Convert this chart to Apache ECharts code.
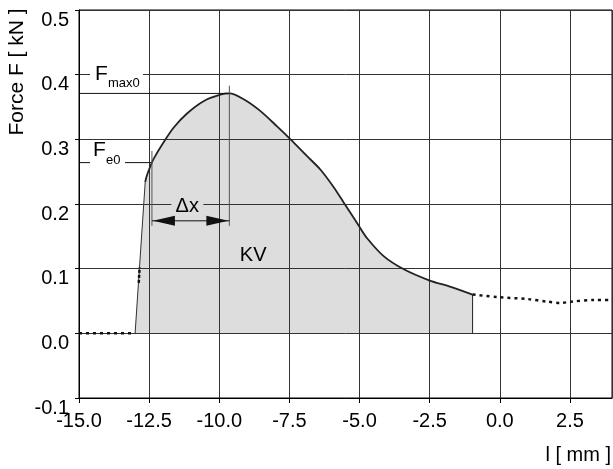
<!DOCTYPE html>
<html><head><meta charset="utf-8">
<script src="https://cdn.jsdelivr.net/npm/echarts@6/dist/echarts.min.js"></script>
<style>html,body{margin:0;padding:0;background:#fff}#c{width:613px;height:469px}</style>
</head><body><div id="c"></div>
<script>
// ---- data ----
const baselineX = [-15.0, -13.0];
const baselineF = [0, 0];
const riseX = [-13.0, -12.64];
const riseF = [0, 0.234];
const probeX = [-12.87, -12.84];
const probeF = [0.078, 0.102];
const curveX = [-12.64,-12.58,-12.46,-12.35,-11.99,-11.63,-11.15,-10.56,-9.96,-9.64,-9.13,-8.54,-7.94,-7.46,-6.87,-6.39,-5.92,-5.56,-5.02,-4.73,-4.13,-3.42,-2.52,-1.75,-0.97];
const curveF = [0.234,0.244,0.258,0.269,0.295,0.318,0.340,0.359,0.369,0.371,0.362,0.344,0.320,0.300,0.274,0.253,0.226,0.202,0.166,0.147,0.119,0.099,0.082,0.072,0.060];
const tailX = [-0.97,-0.08,0.99,1.70,2.18,2.54,3.37,4.0];
const tailF = [0.060,0.056,0.053,0.049,0.047,0.049,0.0515,0.0515];
const fe0 = [-12.40, 0.264];
const fmax0 = [-9.64, 0.371];
const fe0Top = 0.282, fmax0Top = 0.383, dxArrowF = 0.174;
const fmaxLabelAt = [-14.43, 0.3895];
const fe0LabelAt = [-14.50, 0.272];
const dxLabelAt = [-11.14, 0.196];
const kvLabelAt = [-8.79, 0.1206];
const xTickLabels = ['-15.0','-12.5','-10.0','-7.5','-5.0','-2.5','0.0','2.5'];
const yTickLabels = ['-0.1','0.0','0.1','0.2','0.3','0.4','0.5'];
const xName = 'l [ mm ]';
const yName = 'Force F [ kN ]';

const FONT = '"Liberation Sans", Arial, sans-serif';
const zip = (a, b) => a.map((v, i) => [v, b[i]]);
const areaData = zip(riseX.slice(0,1), riseF.slice(0,1)).concat(zip(curveX, curveF));

const chart = echarts.init(document.getElementById('c'), null, {renderer: 'canvas'});

function renderAnno(params, api) {
  const p = (x, y) => api.coord([x, y]);
  const left = p(-15, 0)[0];
  const fe = p(fe0[0], fe0[1]);
  const fm = p(fmax0[0], fmax0[1]);
  const feTopY = p(fe0[0], fe0Top)[1];
  const fmTopY = p(fmax0[0], fmax0Top)[1];
  const ay = p(0, dxArrowF)[1];
  const vBot = ay + 5;
  const ls = {stroke: '#111', lineWidth: 1};
  const c = [];
  c.push({type: 'line', shape: {x1: left, y1: fm[1], x2: fm[0], y2: fm[1]}, style: ls});
  c.push({type: 'line', shape: {x1: left, y1: fe[1], x2: fe[0], y2: fe[1]}, style: ls});
  c.push({type: 'line', shape: {x1: fe[0], y1: feTopY, x2: fe[0], y2: vBot}, style: {stroke: '#555', lineWidth: 1}});
  c.push({type: 'line', shape: {x1: fm[0], y1: fmTopY, x2: fm[0], y2: vBot}, style: {stroke: '#555', lineWidth: 1}});
  c.push({type: 'line', shape: {x1: fe[0], y1: ay, x2: fm[0], y2: ay}, style: ls});
  c.push({type: 'polygon', shape: {points: [[fe[0] + 1, ay], [fe[0] + 23, ay - 5], [fe[0] + 23, ay + 5]]}, style: {fill: '#111'}});
  c.push({type: 'polygon', shape: {points: [[fm[0] - 1, ay], [fm[0] - 23, ay - 5], [fm[0] - 23, ay + 5]]}, style: {fill: '#111'}});
  // Fmax0 label
  const a1 = p(fmaxLabelAt[0], fmaxLabelAt[1]);
  c.push({type: 'rect', shape: {x: a1[0] - 5, y: a1[1] - 16, width: 53, height: 21}, style: {fill: '#fff'}});
  c.push({type: 'text', style: {text: 'F', x: a1[0], y: a1[1] - 7.5, fontSize: 21, fontFamily: FONT, fill: '#000', align: 'left', verticalAlign: 'middle'}});
  c.push({type: 'text', style: {text: 'max0', x: a1[0] + 13, y: a1[1] + 2, fontSize: 13, fontFamily: FONT, fill: '#000', align: 'left', verticalAlign: 'middle'}});
  // Fe0 label
  const a2 = p(fe0LabelAt[0], fe0LabelAt[1]);
  c.push({type: 'rect', shape: {x: a2[0] - 3, y: a2[1] - 13, width: 35, height: 23}, style: {fill: '#fff'}});
  c.push({type: 'text', style: {text: 'F', x: a2[0], y: a2[1] - 7.5, fontSize: 21, fontFamily: FONT, fill: '#000', align: 'left', verticalAlign: 'middle'}});
  c.push({type: 'text', style: {text: 'e0', x: a2[0] + 13, y: a2[1] + 3, fontSize: 13, fontFamily: FONT, fill: '#000', align: 'left', verticalAlign: 'middle'}});
  // Δx label
  const a3 = p(dxLabelAt[0], dxLabelAt[1]);
  c.push({type: 'rect', shape: {x: a3[0] - 16, y: a3[1] - 7, width: 32, height: 13}, style: {fill: '#dddddd'}});
  c.push({type: 'text', style: {text: 'Δx', x: a3[0], y: a3[1], fontSize: 20, fontFamily: FONT, fill: '#000', align: 'center', verticalAlign: 'middle'}});
  // KV label
  const a4 = p(kvLabelAt[0], kvLabelAt[1]);
  c.push({type: 'text', style: {text: 'KV', x: a4[0], y: a4[1], fontSize: 20, fontFamily: FONT, fill: '#000', align: 'center', verticalAlign: 'middle'}});
  return {type: 'group', children: c};
}

const option = {
  animation: false,
  backgroundColor: '#fff',
  grid: {left: 79, top: 10, right: 1, bottom: 71, show: true, borderColor: '#000', borderWidth: 1, backgroundColor: 'transparent'},
  xAxis: {
    type: 'value', min: -15, max: 4, interval: 2.5, z: 3,
    axisLine: {onZero: false, lineStyle: {color: '#000', width: 1}},
    axisTick: {show: true, inside: false, length: 5, lineStyle: {color: '#000'}},
    axisLabel: {color: '#000', fontSize: 20, fontFamily: FONT, margin: 13, showMaxLabel: false,
      formatter: v => { const i = Math.round((v + 15) / 2.5); return xTickLabels[i] !== undefined ? xTickLabels[i] : ''; }},
    splitLine: {show: true, lineStyle: {color: '#333', width: 1}}
  },
  yAxis: {
    type: 'value', min: -0.1, max: 0.5, interval: 0.1, z: 3,
    axisLine: {onZero: false, lineStyle: {color: '#000', width: 1}},
    axisTick: {show: true, inside: false, length: 4, lineStyle: {color: '#000'}},
    axisLabel: {color: '#000', fontSize: 20, fontFamily: FONT, margin: 10, verticalAlign: 'top', lineHeight: 20,
      formatter: v => { const i = Math.round((v + 0.1) / 0.1); return yTickLabels[i] !== undefined ? yTickLabels[i] : ''; }},
    splitLine: {show: true, lineStyle: {color: '#333', width: 1}}
  },
  graphic: [
    {type: 'text', rotation: Math.PI / 2, x: 17, y: 72, z: 10,
      style: {text: yName, fontSize: 21, fontFamily: FONT, fill: '#000', align: 'center', verticalAlign: 'middle'}},
    {type: 'text', x: 611, y: 455, z: 10,
      style: {text: xName, fontSize: 20, fontFamily: FONT, fill: '#000', align: 'right', verticalAlign: 'middle'}}
  ],
  series: [
    {type: 'line', z: 1, data: areaData, symbol: 'none', smooth: 0.3,
      lineStyle: {width: 0, opacity: 0}, areaStyle: {color: '#dddddd', opacity: 1}},
    {type: 'line', z: 4, data: [[curveX[curveX.length - 1], 0], [curveX[curveX.length - 1], curveF[curveF.length - 1]]], symbol: 'none',
      lineStyle: {color: '#222', width: 1}},
    {type: 'line', z: 4, data: zip(baselineX, baselineF), symbol: 'none', lineStyle: {color: '#111', width: 2.5, type: [3, 4]}},
    {type: 'line', z: 4, data: zip(riseX, riseF), symbol: 'none', lineStyle: {color: '#333', width: 1}},
    {type: 'line', z: 4, data: zip(probeX, probeF), symbol: 'none', lineStyle: {color: '#111', width: 2.5, type: [3, 2]}},
    {type: 'line', z: 4, data: zip(curveX, curveF), symbol: 'none', smooth: 0.3,
      lineStyle: {color: '#222', width: 1.8}},
    {type: 'line', z: 4, data: zip(tailX, tailF), symbol: 'none', smooth: 0.3,
      lineStyle: {color: '#111', width: 2.5, type: [3, 4]}},
    {type: 'custom', z: 5, data: [0], renderItem: renderAnno, silent: true}
  ]
};
chart.setOption(option);
</script></body></html>
